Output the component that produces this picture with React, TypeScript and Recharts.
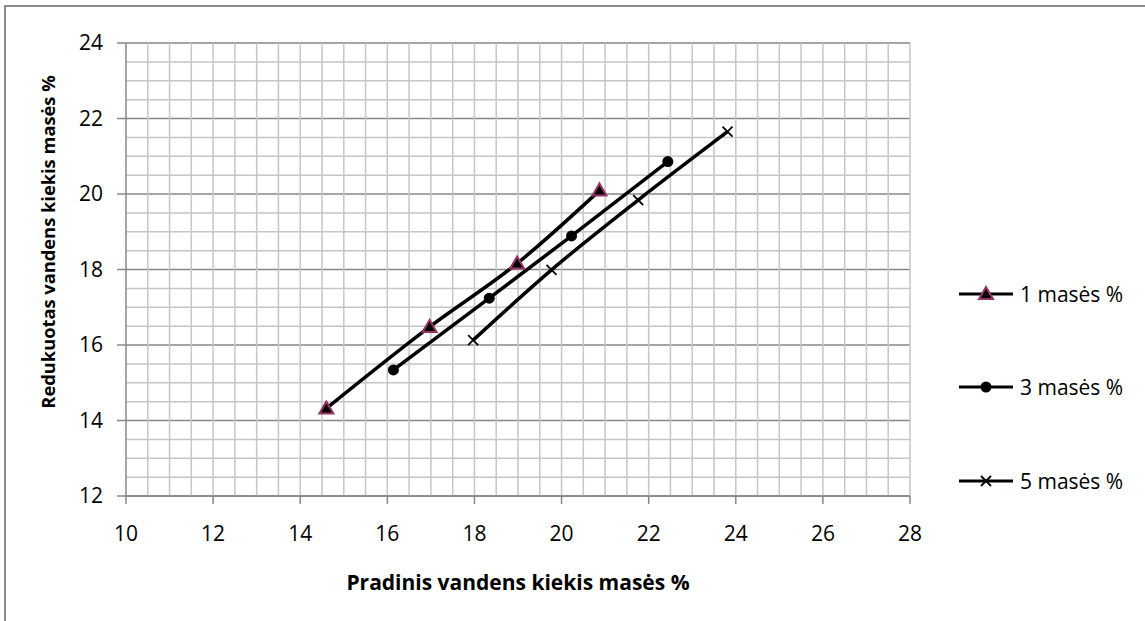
import React from "react";
import { LineChart, Line, XAxis, YAxis, CartesianGrid, ReferenceLine } from "recharts";

const series1 = [
  { x: 14.6, y: 14.32 },
  { x: 16.97, y: 16.48 },
  { x: 18.98, y: 18.16 },
  { x: 20.87, y: 20.09 },
];
const series3 = [
  { x: 16.14, y: 15.34 },
  { x: 18.34, y: 17.24 },
  { x: 20.23, y: 18.89 },
  { x: 22.44, y: 20.86 },
];
const series5 = [
  { x: 17.97, y: 16.13 },
  { x: 19.77, y: 17.99 },
  { x: 21.76, y: 19.84 },
  { x: 23.81, y: 21.65 },
];
const seriesNames = ["1 masės %", "3 masės %", "5 masės %"];
const xTicks = [10, 12, 14, 16, 18, 20, 22, 24, 26, 28];
const yTicks = [12, 14, 16, 18, 20, 22, 24];
const xMinor = [10.5, 11, 11.5, 12, 12.5, 13, 13.5, 14, 14.5, 15, 15.5, 16, 16.5, 17, 17.5, 18, 18.5, 19, 19.5, 20, 20.5, 21, 21.5, 22, 22.5, 23, 23.5, 24, 24.5, 25, 25.5, 26, 26.5, 27, 27.5, 28];
const yMinor = [12.5, 13, 13.5, 14.5, 15, 15.5, 16.5, 17, 17.5, 18.5, 19, 19.5, 20.5, 21, 21.5, 22.5, 23, 23.5];

const FONT = "'Open Sans', sans-serif";
const MINOR = "#c6c6c6";
const MAJOR = "#878787";

const TriangleDot = (props: any) => {
  const { cx, cy } = props;
  if (cx == null || cy == null) return null;
  return (
    <polygon
      points={`${cx},${cy - 7} ${cx - 7},${cy + 5} ${cx + 7},${cy + 5}`}
      fill="#000"
      stroke="#993366"
      strokeWidth={2}
    />
  );
};
const CircleDot = (props: any) => {
  const { cx, cy } = props;
  if (cx == null || cy == null) return null;
  return <circle cx={cx} cy={cy} r={5.5} fill="#000" />;
};
const CrossDot = (props: any) => {
  const { cx, cy } = props;
  if (cx == null || cy == null) return null;
  return (
    <g stroke="#000" strokeWidth={1.8}>
      <line x1={cx - 5} y1={cy - 5} x2={cx + 5} y2={cy + 5} />
      <line x1={cx - 5} y1={cy + 5} x2={cx + 5} y2={cy - 5} />
    </g>
  );
};
const dotShapes = [TriangleDot, CircleDot, CrossDot];

const LegendBlock = () => (
  <div style={{ position: "absolute", left: 959, top: 247, width: 186, fontFamily: FONT, fontSize: 21, color: "#000" }}>
    {seriesNames.map((name, i) => {
      const Shape = dotShapes[i];
      return (
        <div key={name} style={{ display: "flex", alignItems: "center", height: 93.5 }}>
          <svg width={58} height={20} style={{ display: "block" }}>
            <line x1={0} y1={10} x2={54} y2={10} stroke="#000" strokeWidth={3} />
            <Shape cx={27} cy={10} />
          </svg>
          <span style={{ marginLeft: 3, whiteSpace: "nowrap" }}>{name}</span>
        </div>
      );
    })}
  </div>
);

export default function App() {
  return (
    <div style={{ position: "absolute", left: 0, top: 0, width: 1145, height: 621, background: "#fff", overflow: "hidden" }}>
      <div style={{ position: "absolute", left: 4, top: 5, width: 1160, height: 640, border: "2px solid #8a8a8a", boxSizing: "border-box" }} />
      <LineChart
        width={1145}
        height={621}
        margin={{ top: 43, right: 235, bottom: 0, left: 0 }}
        style={{ position: "absolute", left: 0, top: 0, fontFamily: FONT }}
      >
        <XAxis
          type="number"
          dataKey="x"
          domain={[10, 28]}
          ticks={xTicks}
          interval={0}
          allowDataOverflow
          height={125}
          tickSize={8}
          tickMargin={22}
          axisLine={{ stroke: MAJOR, strokeWidth: 1.5 }}
          tickLine={{ stroke: MAJOR, strokeWidth: 1.5 }}
          tick={{ fill: "#000", fontSize: 21, fontFamily: FONT }}
        />
        <YAxis
          type="number"
          dataKey="y"
          domain={[12, 24]}
          ticks={yTicks}
          interval={0}
          allowDataOverflow
          width={126}
          tickSize={9}
          tickMargin={14}
          axisLine={{ stroke: MAJOR, strokeWidth: 1.5 }}
          tickLine={{ stroke: MAJOR, strokeWidth: 1.5 }}
          tick={{ fill: "#000", fontSize: 21, fontFamily: FONT }}
        />
        {xMinor.map((v) => (
          <ReferenceLine key={"vx" + v} x={v} stroke={MINOR} strokeWidth={1.5} />
        ))}
        {yMinor.map((v) => (
          <ReferenceLine key={"hy" + v} y={v} stroke={MINOR} strokeWidth={1.5} />
        ))}
        <CartesianGrid vertical={false} stroke={MAJOR} strokeWidth={1.5} />
        <Line data={series1} dataKey="y" name={seriesNames[0]} type="monotone" stroke="#000" strokeWidth={3.5} dot={<TriangleDot />} activeDot={false} isAnimationActive={false} />
        <Line data={series3} dataKey="y" name={seriesNames[1]} type="monotone" stroke="#000" strokeWidth={3.5} dot={<CircleDot />} activeDot={false} isAnimationActive={false} />
        <Line data={series5} dataKey="y" name={seriesNames[2]} type="monotone" stroke="#000" strokeWidth={3.5} dot={<CrossDot />} activeDot={false} isAnimationActive={false} />
      </LineChart>
      <LegendBlock />
      <div style={{ position: "absolute", left: 318, width: 400, top: 567, textAlign: "center", fontFamily: FONT, fontWeight: 700, fontSize: 21, whiteSpace: "nowrap", lineHeight: "30px" }}>
        Pradinis vandens kiekis masės %
      </div>
      <div style={{ position: "absolute", left: 48, top: 242, width: 0, height: 0 }}>
        <div style={{ position: "absolute", left: -250, top: -15, width: 500, textAlign: "center", transform: "rotate(-90deg)", fontFamily: FONT, fontWeight: 700, fontSize: 18.3, whiteSpace: "nowrap", lineHeight: "30px" }}>
          Redukuotas vandens kiekis masės %
        </div>
      </div>
    </div>
  );
}
